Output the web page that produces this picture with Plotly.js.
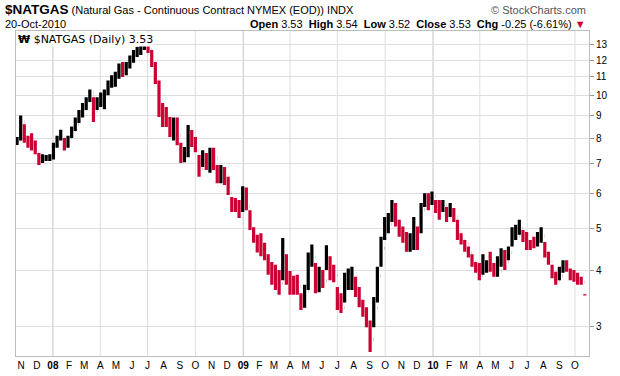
<!DOCTYPE html>
<html>
<head>
<meta charset="utf-8">
<script src="https://cdn.plot.ly/plotly-3.0.1.min.js"></script>
<style>html,body{margin:0;padding:0;background:#fff;}#chart{width:620px;height:376px;}</style>
</head>
<body>
<div id="chart"></div>
<script>
// Weekly bars (mid-week date)
var weekDates = [
'2007-10-24','2007-10-31','2007-11-07','2007-11-14','2007-11-21','2007-11-28','2007-12-05','2007-12-12','2007-12-19','2007-12-26',
'2008-01-02','2008-01-09','2008-01-16','2008-01-23','2008-01-30','2008-02-06','2008-02-13','2008-02-20','2008-02-27',
'2008-03-05','2008-03-12','2008-03-19','2008-03-26','2008-04-02','2008-04-09','2008-04-16','2008-04-23','2008-04-30',
'2008-05-07','2008-05-14','2008-05-21','2008-05-28','2008-06-04','2008-06-11','2008-06-18','2008-06-25',
'2008-07-02','2008-07-09','2008-07-16','2008-07-23','2008-07-30','2008-08-06','2008-08-13','2008-08-20','2008-08-27',
'2008-09-03','2008-09-10','2008-09-17','2008-09-24','2008-10-01','2008-10-08','2008-10-15','2008-10-22','2008-10-29',
'2008-11-05','2008-11-12','2008-11-19','2008-11-26','2008-12-03','2008-12-10','2008-12-17','2008-12-24','2008-12-31',
'2009-01-07','2009-01-14','2009-01-21','2009-01-28','2009-02-04','2009-02-11','2009-02-18','2009-02-25',
'2009-03-04','2009-03-11','2009-03-18','2009-03-25','2009-04-01','2009-04-08','2009-04-15','2009-04-22','2009-04-29',
'2009-05-06','2009-05-13','2009-05-20','2009-05-27','2009-06-03','2009-06-10','2009-06-17','2009-06-24',
'2009-07-01','2009-07-08','2009-07-15','2009-07-22','2009-07-29','2009-08-05','2009-08-12','2009-08-19','2009-08-26',
'2009-09-02','2009-09-09','2009-09-16','2009-09-23','2009-09-30','2009-10-07','2009-10-14','2009-10-21','2009-10-28',
'2009-11-04','2009-11-11','2009-11-18','2009-11-25','2009-12-02','2009-12-09','2009-12-16','2009-12-23','2009-12-30',
'2010-01-06','2010-01-13','2010-01-20','2010-01-27','2010-02-03','2010-02-10','2010-02-17','2010-02-24',
'2010-03-03','2010-03-10','2010-03-17','2010-03-24','2010-03-31','2010-04-07','2010-04-14','2010-04-21','2010-04-28',
'2010-05-05','2010-05-12','2010-05-19','2010-05-26','2010-06-02','2010-06-09','2010-06-16','2010-06-23','2010-06-30',
'2010-07-07','2010-07-14','2010-07-21','2010-07-28','2010-08-04','2010-08-11','2010-08-18','2010-08-25',
'2010-09-01','2010-09-08','2010-09-15','2010-09-22','2010-09-29','2010-10-06','2010-10-13','2010-10-20'
];
var highs = [
8.04,9.00,8.60,8.10,8.20,7.90,7.40,7.35,7.32,7.35,
7.80,8.10,8.35,8.00,8.10,8.50,8.90,9.26,9.60,
9.90,10.30,9.90,9.90,10.15,10.30,10.80,11.10,11.30,
11.80,11.90,11.90,12.30,12.66,12.87,13.10,13.20,
13.20,12.66,11.90,10.80,9.60,9.40,8.93,8.90,8.90,
7.80,7.63,8.56,8.34,8.04,7.32,7.51,7.40,7.60,
7.60,6.95,6.95,6.88,6.54,5.88,5.85,5.79,6.22,
6.18,5.49,5.02,4.83,4.87,4.63,4.36,4.19,
4.13,4.02,4.75,4.36,4.00,3.90,3.92,3.56,3.72,
4.40,4.59,4.17,4.09,4.02,4.57,4.32,4.13,
3.68,3.56,3.96,4.05,4.09,3.88,3.68,3.44,3.31,
3.09,3.49,4.09,4.78,5.30,5.41,5.79,5.70,5.22,
5.04,4.90,4.87,5.30,5.04,5.70,6.00,6.00,6.05,
5.79,5.79,5.79,5.58,5.70,5.55,5.22,4.87,
4.70,4.54,4.36,4.19,4.17,4.36,4.23,4.42,4.17,
4.32,4.50,4.46,4.54,5.02,5.09,5.22,4.95,4.90,
4.70,4.78,4.90,5.02,4.65,4.42,4.13,3.98,
4.09,4.23,4.23,4.05,4.02,3.96,3.88,3.54
];
var lows = [
7.71,7.90,7.80,7.60,7.50,7.35,6.95,7.02,7.10,7.10,
7.15,7.60,7.90,7.50,7.60,8.00,8.30,8.65,8.90,
9.26,9.65,8.70,9.26,9.40,9.30,10.00,10.40,10.45,
10.90,11.00,11.10,11.50,11.85,12.20,12.33,12.66,
12.46,11.58,10.60,8.93,8.47,8.47,8.04,7.90,7.70,
7.02,7.05,7.24,7.63,7.43,6.54,6.88,6.77,6.67,
6.77,6.32,6.32,6.26,5.94,5.44,5.44,5.27,5.44,
5.49,4.95,4.63,4.40,4.32,4.23,3.92,3.72,
3.62,3.53,3.81,3.72,3.53,3.53,3.53,3.26,3.30,
3.62,4.09,3.56,3.58,3.66,4.02,3.81,3.77,
3.26,3.21,3.39,3.62,3.62,3.49,3.31,3.15,2.98,
2.62,2.98,3.39,4.09,4.70,4.87,5.16,5.04,4.78,
4.63,4.42,4.42,4.46,4.46,4.87,5.58,5.49,5.64,
5.41,5.22,5.44,5.16,5.30,5.16,4.70,4.59,
4.42,4.29,4.09,3.96,3.81,3.92,3.96,3.98,3.88,
3.88,4.09,4.02,4.23,4.54,4.70,4.83,4.65,4.46,
4.46,4.50,4.54,4.63,4.29,4.13,3.85,3.72,
3.81,3.96,3.98,3.81,3.78,3.72,3.72,3.52
];
var closes = [
7.90,8.70,8.00,7.80,7.60,7.40,7.10,7.20,7.20,7.30,
7.70,8.00,8.00,7.70,8.00,8.30,8.60,9.00,9.30,
9.70,10.10,9.20,9.60,9.90,10.10,10.60,10.80,11.00,
11.60,11.30,11.70,11.90,12.30,12.60,12.80,13.00,
12.70,11.70,10.80,9.10,9.00,8.70,8.30,8.40,8.10,
7.30,7.40,8.00,7.80,7.50,6.80,7.10,7.00,7.30,
7.20,6.60,6.70,6.60,6.00,5.70,5.60,5.60,5.90,
5.60,5.00,4.80,4.60,4.60,4.30,4.10,4.00,
3.80,3.75,4.00,3.90,3.70,3.70,3.70,3.40,3.60,
4.20,4.30,3.70,3.90,3.80,4.30,3.90,3.90,
3.40,3.30,3.70,3.80,3.80,3.60,3.40,3.20,3.00,
2.80,3.30,3.90,4.50,4.90,5.10,5.50,5.20,4.90,
4.80,4.60,4.70,5.00,4.90,5.50,5.80,5.70,5.90,
5.70,5.50,5.60,5.30,5.50,5.30,4.90,4.70,
4.60,4.40,4.20,4.00,3.90,4.00,4.10,4.00,3.90,
4.00,4.30,4.20,4.40,4.80,4.80,5.00,4.75,4.60,
4.60,4.60,4.75,4.80,4.40,4.20,3.95,3.80,
3.90,4.10,4.00,3.90,3.85,3.80,3.78,3.53
];
var monthTicks = ['2007-11-01','2007-12-01','2008-01-01','2008-02-01','2008-03-01','2008-04-01','2008-05-01','2008-06-01','2008-07-01','2008-08-01','2008-09-01','2008-10-01','2008-11-01','2008-12-01',
'2009-01-01','2009-02-01','2009-03-01','2009-04-01','2009-05-01','2009-06-01','2009-07-01','2009-08-01','2009-09-01','2009-10-01','2009-11-01','2009-12-01',
'2010-01-01','2010-02-01','2010-03-01','2010-04-01','2010-05-01','2010-06-01','2010-07-01','2010-08-01','2010-09-01','2010-10-01'];
var monthLabels = ['N','D','<b>08</b>','F','M','A','M','J','J','A','S','O','N','D',
'<b>09</b>','F','M','A','M','J','J','A','S','O','N','D',
'<b>10</b>','F','M','A','M','J','J','A','S','O'];
var quarterLines = ['2008-01-01','2008-04-01','2008-07-01','2008-10-01','2009-01-01','2009-04-01','2009-07-01','2009-10-01','2010-01-01','2010-04-01','2010-07-01','2010-10-01'];
var priceTicks = [3,4,5,6,7,8,9,10,11,12,13];

// open taken as the previous close, so colour follows the close-to-close change
var opens = closes.map(function(c,i){ return i>0 ? closes[i-1] : c; });

var trace = {
  type:'ohlc', x:weekDates, open:opens, high:highs, low:lows, close:closes,
  increasing:{line:{color:'#000000', width:3.2}},
  decreasing:{line:{color:'#cc0033', width:3.2}},
  tickwidth:0.05, hoverinfo:'skip'
};

var shapes = quarterLines.map(function(d){
  var isYear = d.slice(5)==='01-01';
  return {type:'line', xref:'x', yref:'paper', x0:d, x1:d, y0:0, y1:1, layer:'below',
          line:{color: isYear ? '#c4c4c4' : '#dedede', width:1}};
});

var F = 'Arial, "Liberation Sans", sans-serif';
var layout = {
  width:620, height:376,
  margin:{l:16, r:31, t:31, b:20},
  paper_bgcolor:'#ffffff', plot_bgcolor:'#ffffff',
  showlegend:false,
  font:{family:F, size:10, color:'#000'},
  xaxis:{type:'date', range:['2007-10-22','2010-10-28'], tickmode:'array', tickvals:monthTicks, ticktext:monthLabels,
         showgrid:false, showline:true, mirror:true, linecolor:'#bdbdbd', linewidth:1, ticks:'',
         tickfont:{family:F, size:10, color:'#000'}, rangeslider:{visible:false}, fixedrange:true, zeroline:false},
  yaxis:{type:'log', side:'right', range:[Math.log10(2.566), Math.log10(13.98)], tickmode:'array',
         tickvals:priceTicks, ticktext:priceTicks.map(String),
         showgrid:true, gridcolor:'#dedede', gridwidth:1, showline:true, mirror:true, linecolor:'#bdbdbd', linewidth:1,
         ticks:'outside', ticklen:4, tickcolor:'#999', tickfont:{family:F, size:10, color:'#000'}, zeroline:false, fixedrange:true},
  shapes:shapes,
  annotations:[
    {xref:'paper', yref:'paper', x:-0.0227, y:1.066, xanchor:'left', yanchor:'middle', showarrow:false,
     text:'<span style="font-size:13.5px"><b>$NATGAS</b></span> (Natural Gas - Continuous Contract NYMEX (EOD)) INDX',
     font:{family:F, size:11, color:'#000'}},
    {xref:'paper', yref:'paper', x:0.9983, y:1.066, xanchor:'right', yanchor:'middle', showarrow:false,
     text:'© StockCharts.com', font:{family:F, size:11, color:'#555'}},
    {xref:'paper', yref:'paper', x:-0.0227, y:1.0215, xanchor:'left', yanchor:'middle', showarrow:false,
     text:'20-Oct-2010', font:{family:F, size:11, color:'#000'}},
    {xref:'paper', yref:'paper', x:0.9983, y:1.0215, xanchor:'right', yanchor:'middle', showarrow:false,
     text:'<b>Open</b> 3.53  <b>High</b> 3.54  <b>Low</b> 3.52  <b>Close</b> 3.53  <b>Chg</b> -0.25 (-6.61%) <span style="color:#cc0033">▼</span>',
     font:{family:F, size:11, color:'#000'}},
    {xref:'paper', yref:'paper', x:0.002, y:0.997, xanchor:'left', yanchor:'top', showarrow:false,
     text:'<b>₩</b> $NATGAS (Daily) 3.53', bgcolor:'#ffffff', borderpad:0,
     font:{family:'"DejaVu Sans", Verdana, sans-serif', size:11, color:'#000'}}
  ]
};

Plotly.newPlot('chart', [trace], layout, {staticPlot:true, displayModeBar:false});
</script>
</body>
</html>
